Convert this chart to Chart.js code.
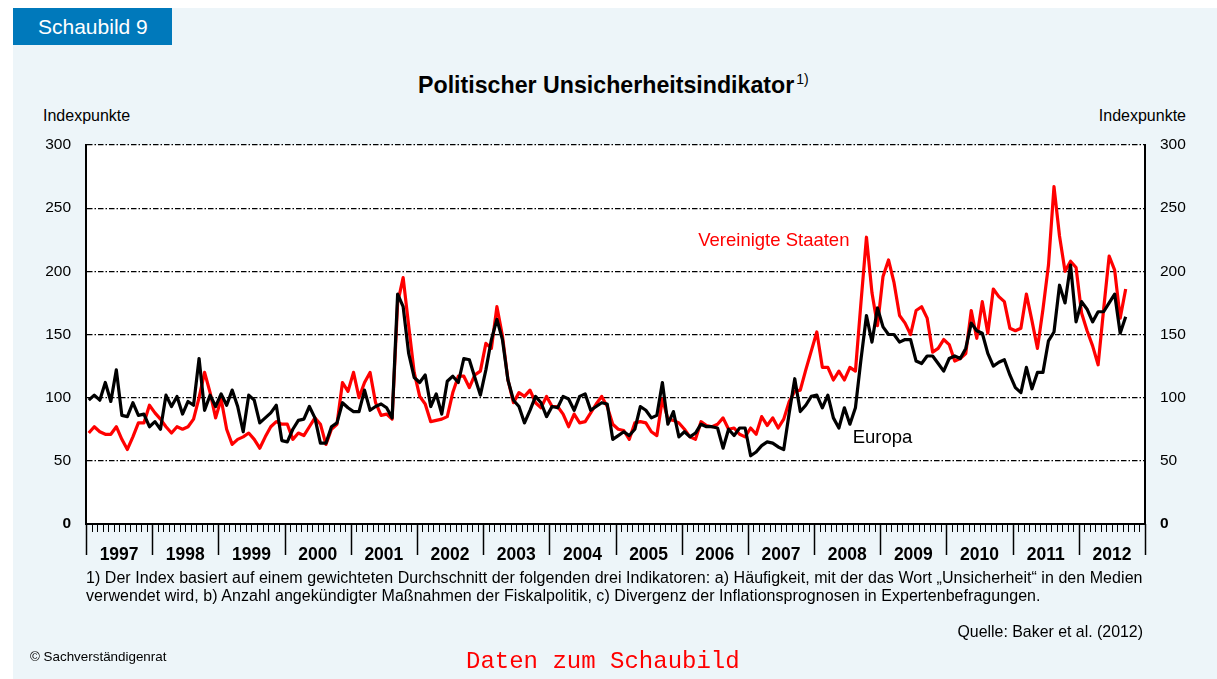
<!DOCTYPE html>
<html lang="de">
<head>
<meta charset="utf-8">
<title>Politischer Unsicherheitsindikator</title>
<script src="https://cdn.jsdelivr.net/npm/chart.js@4.4.1/dist/chart.umd.min.js"></script>
<style>
  html, body { margin: 0; padding: 0; background: #fff; }
  body {
    width: 1217px; height: 679px; position: relative; overflow: hidden;
    font-family: "Liberation Sans", Arial, Helvetica, sans-serif; color: #000;
  }
  .panel { position: absolute; left: 13px; top: 8px; right: 0; bottom: 0; background: #edf5f9; }
  .tab {
    position: absolute; left: 13px; top: 8px; width: 159px; height: 37px;
    background: #0079bb; color: #fff; font-size: 21px; line-height: 37px;
    padding-left: 25px; box-sizing: border-box;
  }
  .title { position: absolute; left: 418px; top: 72px; font-size: 23.2px; line-height: 26px; font-weight: bold; white-space: nowrap; }
  .title sup { font-size: 14px; font-weight: normal; vertical-align: 9px; line-height: 0; margin-left: 2px; }
  .unit { position: absolute; top: 107px; font-size: 16px; line-height: 18px; }
  .unit.left { left: 43px; }
  .unit.right { right: 31px; }
  .note { position: absolute; left: 86px; top: 569px; font-size: 16px; line-height: 18px; white-space: nowrap; letter-spacing: 0.05px; }
  .source { position: absolute; right: 74px; top: 623px; font-size: 15.9px; line-height: 18px; }
  .copy { position: absolute; left: 30px; top: 649px; font-size: 13.4px; line-height: 16px; }
  .data-link {
    position: absolute; left: 466px; top: 648px; font-family: "Liberation Mono", "Courier New", monospace;
    font-size: 24px; line-height: 28px; color: #ff0000; white-space: nowrap;
  }
  #chart { position: absolute; left: 0; top: 0; }
</style>
</head>
<body>
<div class="panel"></div>
<div class="tab">Schaubild 9</div>
<div class="title">Politischer Unsicherheitsindikator<sup>1)</sup></div>
<div class="unit left">Indexpunkte</div>
<div class="unit right">Indexpunkte</div>
<canvas id="chart" width="1217" height="679"></canvas>
<div class="note">1) Der Index basiert auf einem gewichteten Durchschnitt der folgenden drei Indikatoren: a) Häufigkeit, mit der das Wort „Unsicherheit“ in den Medien<br>verwendet wird, b) Anzahl angekündigter Maßnahmen der Fiskalpolitik, c) Divergenz der Inflationsprognosen in Expertenbefragungen.</div>
<div class="source">Quelle: Baker et al. (2012)</div>
<div class="copy">© Sachverständigenrat</div>
<div class="data-link">Daten zum Schaubild</div>

<script>
// Monthly index values, January 1997 to September 2012
const years = ['1997', '1998', '1999', '2000', '2001', '2002', '2003', '2004',
  '2005', '2006', '2007', '2008', '2009', '2010', '2011', '2012'];

const usIndex = [
  72, 77, 73, 71, 71, 77, 67, 59, 69, 80, 80, 94,
  88, 83, 77, 72, 77, 75, 77, 83, 100, 120, 104, 84,
  99, 75, 63, 67, 69, 72, 67, 60, 69, 77, 81, 79,
  79, 67, 72, 70, 77, 84, 79, 63, 75, 79, 112, 105,
  120, 100, 112, 120, 96, 86, 87, 83, 175, 195, 157, 120,
  101, 95, 81, 82, 83, 85, 104, 117, 117, 108, 118, 121,
  143, 139, 172, 149, 114, 96, 104, 101, 106, 96, 92, 101,
  93, 93, 87, 77, 87, 80, 81, 88, 95, 101, 93, 79,
  75, 74, 67, 80, 81, 80, 73, 70, 99, 83, 82, 80,
  75, 69, 67, 81, 78, 77, 79, 84, 75, 76, 71, 69,
  76, 71, 85, 78, 84, 76, 83, 97, 105, 106, 122, 137,
  152, 124, 124, 114, 121, 114, 124, 121, 175, 227, 183, 157,
  196, 209, 191, 165, 159, 150, 169, 172, 163, 136, 139, 146,
  142, 129, 131, 135, 169, 147, 176, 151, 186, 180, 176, 155,
  153, 155, 182, 161, 139, 170, 205, 267, 228, 200, 208, 203,
  167, 153, 141, 126, 170, 212, 201, 163, 186
];

const euIndex = [
  98, 102, 98, 112, 97, 122, 86, 85, 96, 86, 87, 77,
  81, 75, 102, 93, 101, 87, 97, 94, 131, 90, 102, 93,
  103, 94, 106, 93, 73, 102, 98, 80, 84, 88, 94, 66,
  65, 75, 82, 83, 93, 84, 64, 64, 77, 80, 96, 92,
  89, 89, 106, 90, 93, 95, 92, 84, 182, 172, 135, 116,
  112, 118, 93, 103, 87, 113, 117, 112, 131, 130, 116, 102,
  122, 146, 162, 146, 114, 98, 93, 80, 90, 101, 96, 85,
  93, 92, 101, 99, 90, 101, 103, 90, 93, 96, 95, 67,
  70, 73, 70, 75, 93, 90, 84, 86, 112, 79, 89, 69,
  73, 69, 72, 79, 77, 77, 76, 60, 75, 70, 76, 76,
  54, 57, 62, 65, 64, 61, 59, 88, 115, 89, 94, 101,
  102, 92, 102, 84, 76, 92, 79, 92, 130, 165, 144, 171,
  156, 150, 150, 144, 146, 146, 129, 127, 133, 133, 127, 121,
  131, 133, 131, 139, 159, 153, 151, 135, 125, 128, 130, 118,
  108, 104, 124, 107, 120, 120, 145, 152, 189, 175, 205, 160,
  176, 170, 160, 168, 168, 175, 182, 151, 164
];

const yTicks = [0, 50, 100, 150, 200, 250, 300];

// each month sits in the middle of its slot on a month-count axis
const toPoints = (values) => values.map((v, i) => ({ x: i + 0.5, y: v }));

const FONT = '"Liberation Sans", Arial, Helvetica, sans-serif';
Chart.defaults.font.family = FONT;
Chart.defaults.color = '#000';

const tickFont = (c) => ({
  family: FONT,
  size: 15.5,
  weight: c.tick && c.tick.value === 0 ? 'bold' : 'normal'
});

// white plot area behind the grid
const plotBackground = {
  id: 'plotBackground',
  beforeDraw(chart) {
    const { ctx, chartArea: a } = chart;
    ctx.save();
    ctx.fillStyle = '#fff';
    ctx.fillRect(a.left, a.top, a.right - a.left, a.bottom - a.top);
    ctx.restore();
  }
};

// month ticks and long year separators under the x axis
const monthTicks = {
  id: 'monthTicks',
  afterDraw(chart) {
    const { ctx, chartArea: a } = chart;
    const xs = chart.scales.x;
    ctx.save();
    ctx.strokeStyle = '#000';
    for (let m = 0; m <= years.length * 12; m++) {
      const x = Math.round(xs.getPixelForValue(m)) + 0.5;
      const isYear = m % 12 === 0;
      ctx.lineWidth = isYear ? 1.5 : 1;
      ctx.beginPath();
      ctx.moveTo(x, a.bottom);
      ctx.lineTo(x, a.bottom + (isYear ? 31 : 8));
      ctx.stroke();
    }
    ctx.restore();
  }
};

// series names written inside the plot
const seriesNames = {
  id: 'seriesNames',
  afterDatasetsDraw(chart) {
    const { ctx } = chart;
    const xs = chart.scales.x;
    const ys = chart.scales.y;
    ctx.save();
    ctx.font = '18.5px ' + FONT;
    ctx.textBaseline = 'middle';
    ctx.textAlign = 'left';
    ctx.fillStyle = '#ff0000';
    ctx.fillText('Vereinigte Staaten', xs.getPixelForValue(111), ys.getPixelForValue(224));
    ctx.fillStyle = '#000';
    ctx.fillText('Europa', xs.getPixelForValue(139), ys.getPixelForValue(68));
    ctx.restore();
  }
};

new Chart(document.getElementById('chart'), {
  type: 'line',
  data: {
    datasets: [
      {
        label: 'Europa',
        data: toPoints(euIndex),
        borderColor: '#000',
        borderWidth: 3.2
      },
      {
        label: 'Vereinigte Staaten',
        data: toPoints(usIndex),
        borderColor: '#ff0000',
        borderWidth: 3.2
      }
    ]
  },
  options: {
    responsive: false,
    animation: false,
    devicePixelRatio: 1,
    layout: { padding: { top: 145, left: 0, right: 0, bottom: 115 } },
    elements: {
      point: { radius: 0, hoverRadius: 0 },
      line: { tension: 0, borderJoinStyle: 'round', fill: false }
    },
    plugins: {
      legend: { display: false },
      tooltip: { enabled: false }
    },
    scales: {
      x: {
        type: 'linear',
        min: 0,
        max: years.length * 12,
        grid: { display: false },
        border: { display: true, color: '#000', width: 2 },
        afterBuildTicks: (axis) => {
          axis.ticks = years.map((y, k) => ({ value: 6 + 12 * k }));
        },
        afterFit: (axis) => { axis.height = 40; },
        ticks: {
          autoSkip: false,
          maxRotation: 0,
          padding: 13,
          font: { family: FONT, size: 17.5, weight: 'bold' },
          callback: (value) => years[Math.round((value - 6) / 12)]
        }
      },
      y: {
        position: 'left',
        min: 0,
        max: 300,
        afterBuildTicks: (axis) => { axis.ticks = yTicks.map(v => ({ value: v })); },
        afterFit: (axis) => { axis.width = 86; },
        grid: {
          drawTicks: false,
          lineWidth: 1.3,
          color: (c) => (c.tick && c.tick.value === 0 ? 'rgba(0,0,0,0)' : '#000')
        },
        border: { display: true, color: '#000', width: 2, dash: [5.5, 2, 1.5, 2] },
        ticks: { padding: 15, font: tickFont }
      },
      y2: {
        position: 'right',
        min: 0,
        max: 300,
        afterBuildTicks: (axis) => { axis.ticks = yTicks.map(v => ({ value: v })); },
        afterFit: (axis) => { axis.width = 72; },
        grid: { drawOnChartArea: false, drawTicks: false },
        border: { display: true, color: '#000', width: 2 },
        ticks: { padding: 15, font: tickFont }
      }
    }
  },
  plugins: [plotBackground, monthTicks, seriesNames]
});
</script>
</body>
</html>
